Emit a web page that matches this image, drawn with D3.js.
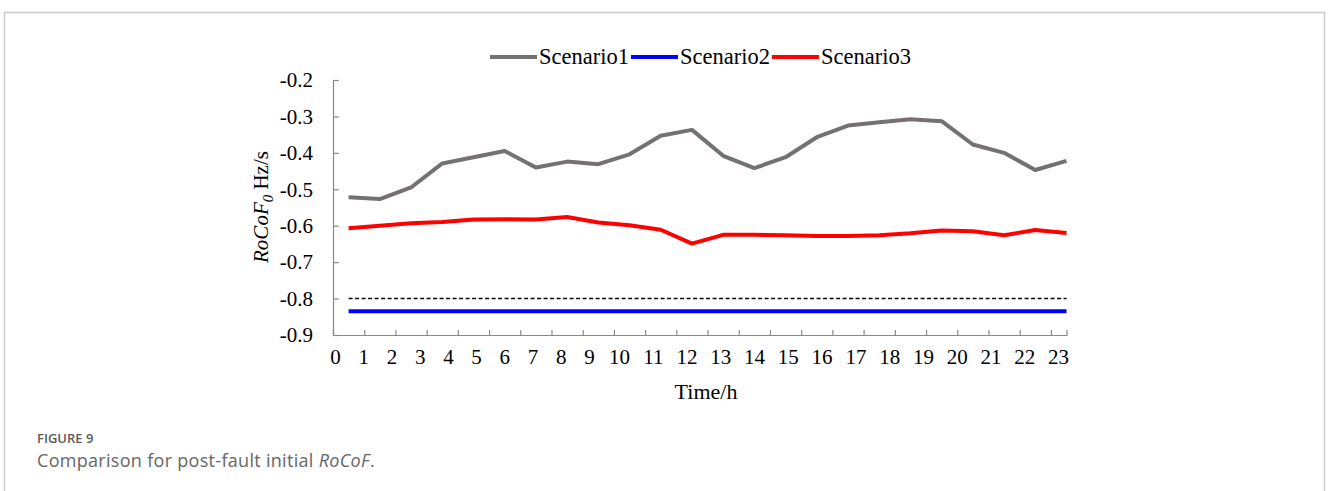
<!DOCTYPE html>
<html>
<head>
<meta charset="utf-8">
<script src="https://cdn.jsdelivr.net/npm/d3@7/dist/d3.min.js"></script>
<style>
  html, body { margin: 0; padding: 0; background: #fff; }
  svg { display: block; }
</style>
</head>
<body>
<svg id="chart" width="1328" height="491"></svg>
<script>
// ---------- data ----------
const hourLabels = ["0","1","2","3","4","5","6","7","8","9","10","11","12","13","14","15","16","17","18","19","20","21","22","23"];
const yTicks = [-0.2, -0.3, -0.4, -0.5, -0.6, -0.7, -0.8, -0.9];
const seriesNames = ["Scenario1", "Scenario2", "Scenario3"];
const scenario1 = [-0.522, -0.527, -0.495, -0.429, -0.412, -0.395, -0.440, -0.424, -0.431, -0.404, -0.353, -0.337,
                   -0.408, -0.442, -0.412, -0.357, -0.325, -0.316, -0.308, -0.313, -0.377, -0.400, -0.447, -0.422];
const scenario2 = [-0.835, -0.835, -0.835, -0.835, -0.835, -0.835, -0.835, -0.835, -0.835, -0.835, -0.835, -0.835,
                   -0.835, -0.835, -0.835, -0.835, -0.835, -0.835, -0.835, -0.835, -0.835, -0.835, -0.835, -0.835];
const scenario3 = [-0.607, -0.600, -0.593, -0.590, -0.583, -0.582, -0.583, -0.576, -0.591, -0.599, -0.611, -0.649,
                   -0.625, -0.625, -0.626, -0.628, -0.628, -0.626, -0.621, -0.613, -0.615, -0.626, -0.612, -0.620];
const thresholdValue = -0.8;

// ---------- layout ----------
const svg = d3.select("#chart");
const serif = "'Liberation Serif', 'Times New Roman', serif";
const sans = "'Open Sans', Lato, sans-serif";
const colors = ["#767171", "#0000ff", "#ff0000"];

svg.append("rect").attr("x", 0).attr("y", 0).attr("width", 1328).attr("height", 491).attr("fill", "#fff");
// figure frame
svg.append("path")
  .attr("d", "M4.5,495 V12.5 H1324.5 V495")
  .attr("fill", "none").attr("stroke", "#c9c9c9").attr("stroke-width", 1.5);

const x = d3.scaleLinear().domain([0, 23.5]).range([333, 1066.5]);
const y = d3.scaleLinear().domain([-0.9, -0.2]).range([335, 80]);
// position of the hour labels beneath the axis
const xl = d3.scaleLinear().domain([0, 9, 10, 23]).range([335, 589, 619, 1058]);

const axisColor = "#898989";

// y axis
const yAxis = svg.append("g").attr("transform", "translate(333,0)")
  .call(d3.axisLeft(y).tickValues(yTicks).tickSize(-6).tickPadding(20)
        .tickFormat(d => d3.format(".1f")(d).replace("−", "-")));
yAxis.select(".domain").attr("stroke", axisColor).attr("stroke-width", 1.2);
yAxis.selectAll(".tick line").attr("stroke", axisColor).attr("stroke-width", 1.2);
yAxis.selectAll(".tick text").attr("font-family", serif).attr("font-size", 21).attr("fill", "#000");

// x axis (ticks)
const xAxis = svg.append("g").attr("transform", "translate(0,335)")
  .call(d3.axisBottom(x).tickValues(d3.range(0, 24)).tickSize(-5).tickFormat(""));
xAxis.select(".domain").attr("stroke", axisColor).attr("stroke-width", 1.2);
xAxis.selectAll(".tick line").attr("stroke", axisColor).attr("stroke-width", 1.2);

// x axis labels
const xLab = svg.append("g").attr("transform", "translate(0,335)")
  .call(d3.axisBottom(xl).tickValues(hourLabels.map((d, i) => i)).tickSize(0).tickPadding(14)
        .tickFormat(i => hourLabels[i]));
xLab.select(".domain").remove();
xLab.selectAll(".tick text").attr("font-family", serif).attr("font-size", 21).attr("fill", "#000");

// axis titles
svg.append("text").attr("x", 706).attr("y", 399).attr("text-anchor", "middle")
  .attr("font-family", serif).attr("font-size", 22).text("Time/h");

const yt = svg.append("text").attr("transform", "translate(268,207) rotate(-90)")
  .attr("text-anchor", "middle").attr("font-family", serif).attr("font-size", 21);
yt.append("tspan").attr("font-style", "italic").text("RoCoF");
yt.append("tspan").attr("font-style", "italic").attr("font-size", 15).attr("dy", 5).text("0");
yt.append("tspan").attr("dy", -5).text(" Hz/s");

// threshold dashed line
svg.append("line")
  .attr("x1", x(0.5)).attr("x2", x(23.5))
  .attr("y1", y(thresholdValue)).attr("y2", y(thresholdValue))
  .attr("stroke", "#000").attr("stroke-width", 1.5).attr("stroke-dasharray", "4,2.5");

// series lines
const line = d3.line().x((d, i) => x(i + 0.5)).y(d => y(d));
[scenario1, scenario2, scenario3].forEach((s, k) => {
  svg.append("path").datum(s).attr("d", line)
    .attr("fill", "none").attr("stroke", colors[k]).attr("stroke-width", 4)
    .attr("stroke-linejoin", "round");
});

// legend
let lx = 490;
const ly = 57;
seriesNames.forEach((name, k) => {
  svg.append("line").attr("x1", lx).attr("x2", lx + 47).attr("y1", ly).attr("y2", ly)
    .attr("stroke", colors[k]).attr("stroke-width", 4);
  const t = svg.append("text").attr("x", lx + 49).attr("y", ly + 7)
    .attr("font-family", serif).attr("font-size", 22.5).text(name);
  lx = lx + 49 + t.node().getComputedTextLength() + 2;
});

// caption
svg.append("text").attr("x", 37).attr("y", 443).attr("font-family", sans)
  .attr("font-size", 13).attr("font-weight", 600).attr("fill", "#5a5a5a").text("FIGURE 9");
const cap = svg.append("text").attr("x", 37).attr("y", 467).attr("font-family", sans)
  .attr("font-size", 18).attr("fill", "#666").attr("letter-spacing", 0.3);
cap.append("tspan").text("Comparison for post-fault initial ");
cap.append("tspan").attr("font-style", "italic").text("RoCoF");
cap.append("tspan").text(".");
</script>
</body>
</html>
